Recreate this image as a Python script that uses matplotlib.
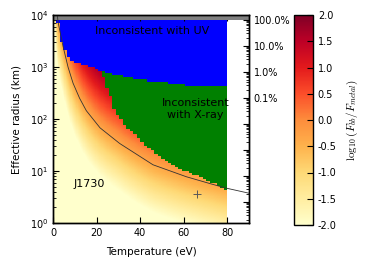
import numpy as np
import matplotlib
matplotlib.use("Agg")
import matplotlib.pyplot as plt
from matplotlib.colors import ListedColormap
from matplotlib.ticker import FuncFormatter, LogLocator

# ---- data ----
# constant-luminosity curve (T in eV, log10 R in km)
curve_T = [2.0, 2.3, 4.6, 6.9, 9.2, 12.2, 15.3, 21.6, 30.6, 45.9, 61.2, 71.9, 79.6, 90.3]
curve_logR = [4.00, 3.87, 3.40, 3.00, 2.69, 2.40, 2.16, 1.83, 1.53, 1.12, 0.89, 0.76, 0.67, 0.57]

# UV constraint: lower boundary of excluded region (log10 R)
uv_T = [2.0, 2.3, 3.1, 4.6, 6.9, 8.4, 11.5, 15.3, 19.1, 22.2, 28.3, 36.7, 45.9, 56.9, 62.9, 68.9, 80.0]
uv_logR = [3.95, 3.85, 3.62, 3.39, 3.23, 3.13, 3.07, 3.04, 2.97, 2.91, 2.85, 2.78, 2.72, 2.69, 2.65, 2.63, 2.62]

# X-ray constraint: lower boundary of excluded region (log10 R)
xr_T = [22.2, 23.7, 25.3, 26.8, 28.3, 29.8, 32.9, 35.9, 38.2, 42.8, 49.0, 55.1, 61.2, 67.4, 75.0, 79.6, 80.0]
xr_logR = [2.91, 2.75, 2.56, 2.37, 2.17, 2.08, 1.88, 1.76, 1.69, 1.47, 1.28, 1.12, 0.99, 0.89, 0.73, 0.63, 0.62]

# colour scale: log10(F_bb/F_metal) relative to the curve
ratio_on_curve = -0.35
ratio_per_dex = 1.8

logR_max = 3.91           # 100% of the surface (gray band above)
src_T, src_R = 66.0, 3.6  # J1730 marker
T_max = 80.0

pct_ticks = [100.0, 10.0, 1.0, 0.1]
cbar_ticks = [-2.0, -1.5, -1.0, -0.5, 0.0, 0.5, 1.0, 1.5, 2.0]

# ---- figure ----
fig = plt.figure(figsize=(3.66, 2.68), dpi=100)
ax = fig.add_axes([53/366, 45/268, 196/366, 208/268])

# colour field
Te = np.linspace(0, T_max, 321)
le = np.linspace(0, logR_max, 392)
Tc = 0.5*(Te[1:] + Te[:-1])
lc = 0.5*(le[1:] + le[:-1])
lT = np.log10(Tc)
cT = np.log10(curve_T)
lRc = np.interp(lT, cT, curve_logR)
s0 = (curve_logR[2]-curve_logR[0])/(cT[2]-cT[0])
low = lT < cT[0]
lRc[low] = curve_logR[0] + s0*(lT[low]-cT[0])
Z = ratio_per_dex*(lc[:, None] - lRc[None, :]) + ratio_on_curve
mesh = ax.pcolormesh(Te, 10**le, Z, cmap='YlOrRd', vmin=-2, vmax=2,
                     shading='flat', rasterized=True)

# exclusion masks on coarse grid
Tm = np.linspace(0, T_max, 51)
lm = np.linspace(0, 4, 101)
Tmc = 0.5*(Tm[1:] + Tm[:-1])
lmc = 0.5*(lm[1:] + lm[:-1])
ub = np.interp(Tmc, uv_T, uv_logR, left=99)
xb = np.interp(Tmc, xr_T, xr_logR, left=99)
blue = lmc[:, None] >= ub[None, :]
green = (lmc[:, None] >= xb[None, :]) & ~blue
M = np.full(blue.shape, np.nan)
M[green] = 1
M[blue] = 0
ax.pcolormesh(Tm, 10**lm, np.ma.masked_invalid(M),
              cmap=ListedColormap(['#0000ff', '#008000']), vmin=0, vmax=1,
              shading='flat', rasterized=True)

ax.axhspan(10**logR_max, 1e4, color='0.5', zorder=2, lw=0)

ax.plot(curve_T, 10**np.array(curve_logR), color='0.2', lw=0.6, zorder=3)
ax.plot([src_T], [src_R], '+', color='0.35', ms=6, mew=0.7, zorder=4)

ax.text(45.3, 10**3.69, 'Inconsistent with UV', ha='center', va='center', fontsize=8)
ax.text(65.5, 10**2.19, 'Inconsistent\nwith X-ray', ha='center', va='center', fontsize=8)
ax.text(9.3, 10**0.75, 'J1730', ha='left', va='center', fontsize=8)

ax.set_yscale('log')
ax.set_xlim(0, 90)
ax.set_ylim(1, 1e4)
ax.set_xticks([0, 20, 40, 60, 80])
ax.set_xlabel('Temperature (eV)', fontsize=7.5, labelpad=6.5)
ax.set_ylabel('Effective radius (km)', fontsize=7.5, labelpad=6)
ax.tick_params(which='both', direction='in', top=True, right=False, labelsize=7)
ax.tick_params(which='major', length=4)
ax.tick_params(which='minor', length=2)
for s in ax.spines.values():
    s.set_linewidth(1.0)

ax2 = ax.twinx()
ax2.set_yscale('log')
R100 = 10**logR_max
ax2.set_ylim(100*(1/R100)**2, 100*(1e4/R100)**2)
ax2.yaxis.set_major_locator(LogLocator(base=10, numticks=20))
ax2.yaxis.set_major_formatter(FuncFormatter(
    lambda v, p: ('%.1f%%' % v) if any(abs(v-t) < 1e-6*t for t in pct_ticks) else ''))
ax2.tick_params(which='both', direction='in', labelsize=7)
ax2.tick_params(which='major', length=4)
ax2.tick_params(which='minor', length=2)
for s in ax2.spines.values():
    s.set_linewidth(1.0)

cax = fig.add_axes([294/366, 43/268, 19/366, 210/268])
cb = fig.colorbar(mesh, cax=cax, ticks=cbar_ticks, format='%.1f')
cb.ax.tick_params(direction='in', labelsize=7, length=4)
cb.outline.set_linewidth(1.0)
cb.set_label(r'$\log_{10}(F_{bb}/F_{metal})$', fontsize=8, math_fontfamily='cm', labelpad=6)

fig.savefig('out.png', dpi=100)
